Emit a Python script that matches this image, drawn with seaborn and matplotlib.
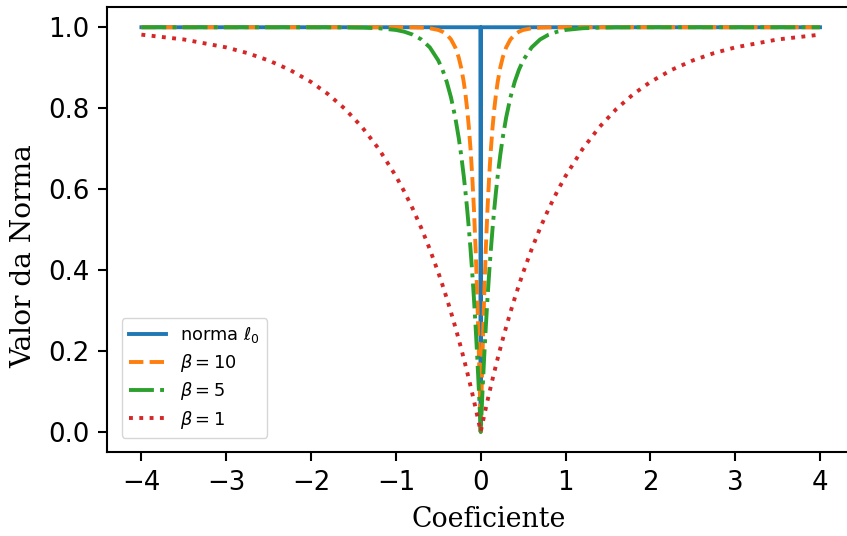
import matplotlib
matplotlib.use("Agg")
import matplotlib.pyplot as plt
import seaborn as sns
import pandas as pd

# Coefficient grid (denser close to zero where the curves are steep)
coef = [
    -4.0, -3.5, -3.0, -2.75, -2.5, -2.25, -2.0, -1.8, -1.6, -1.4, -1.2, -1.0,
    -0.9, -0.8, -0.7, -0.6, -0.5, -0.45, -0.4, -0.35, -0.3, -0.26, -0.23, -0.2,
    -0.18, -0.16, -0.14, -0.12, -0.1, -0.08, -0.06, -0.04, -0.02, -0.01,
    0.0,
    0.01, 0.02, 0.04, 0.06, 0.08, 0.1, 0.12, 0.14, 0.16, 0.18, 0.2, 0.23,
    0.26, 0.3, 0.35, 0.4, 0.45, 0.5, 0.6, 0.7, 0.8, 0.9, 1.0, 1.2, 1.4, 1.6,
    1.8, 2.0, 2.25, 2.5, 2.75, 3.0, 3.5, 4.0,
]

# Smoothed norm, beta = 10
norm_b10 = [
    1.0, 1.0, 1.0, 1.0, 1.0, 1.0, 1.0, 1.0, 1.0, 1.0, 1.0, 1.0,
    0.9999, 0.9997, 0.9991, 0.9975, 0.9933, 0.9889, 0.9817, 0.9698, 0.9502,
    0.9257, 0.8997, 0.8647, 0.8347, 0.7981, 0.7534, 0.6988, 0.6321, 0.5507,
    0.4512, 0.3297, 0.1813, 0.0952,
    0.0,
    0.0952, 0.1813, 0.3297, 0.4512, 0.5507, 0.6321, 0.6988, 0.7534, 0.7981,
    0.8347, 0.8647, 0.8997, 0.9257, 0.9502, 0.9698, 0.9817, 0.9889, 0.9933,
    0.9975, 0.9991, 0.9997, 0.9999, 1.0, 1.0, 1.0, 1.0, 1.0, 1.0, 1.0, 1.0,
    1.0, 1.0, 1.0, 1.0,
]

# Smoothed norm, beta = 5
norm_b5 = [
    1.0, 1.0, 1.0, 1.0, 1.0, 1.0, 1.0, 0.9999, 0.9997, 0.9991, 0.9975, 0.9933,
    0.9889, 0.9817, 0.9698, 0.9502, 0.9179, 0.8946, 0.8647, 0.8262, 0.7769,
    0.7275, 0.6834, 0.6321, 0.5934, 0.5507, 0.5034, 0.4512, 0.3935, 0.3297,
    0.2592, 0.1813, 0.0952, 0.0488,
    0.0,
    0.0488, 0.0952, 0.1813, 0.2592, 0.3297, 0.3935, 0.4512, 0.5034, 0.5507,
    0.5934, 0.6321, 0.6834, 0.7275, 0.7769, 0.8262, 0.8647, 0.8946, 0.9179,
    0.9502, 0.9698, 0.9817, 0.9889, 0.9933, 0.9975, 0.9991, 0.9997, 0.9999,
    1.0, 1.0, 1.0, 1.0, 1.0, 1.0, 1.0,
]

# Smoothed norm, beta = 1
norm_b1 = [
    0.9817, 0.9698, 0.9502, 0.9361, 0.9179, 0.8946, 0.8647, 0.8347, 0.7981,
    0.7534, 0.6988, 0.6321, 0.5934, 0.5507, 0.5034, 0.4512, 0.3935, 0.3624,
    0.3297, 0.2953, 0.2592, 0.2290, 0.2055, 0.1813, 0.1647, 0.1479, 0.1306,
    0.1131, 0.0952, 0.0769, 0.0582, 0.0392, 0.0198, 0.0100,
    0.0,
    0.0100, 0.0198, 0.0392, 0.0582, 0.0769, 0.0952, 0.1131, 0.1306, 0.1479,
    0.1647, 0.1813, 0.2055, 0.2290, 0.2592, 0.2953, 0.3297, 0.3624, 0.3935,
    0.4512, 0.5034, 0.5507, 0.5934, 0.6321, 0.6988, 0.7534, 0.7981, 0.8347,
    0.8647, 0.8946, 0.9179, 0.9361, 0.9502, 0.9698, 0.9817,
]

# l0 norm: one everywhere except at the origin
coef_l0 = [-4.0, -0.004, 0.0, 0.004, 4.0]
norm_l0 = [1.0, 1.0, 0.0, 1.0, 1.0]

labels = [r"norma $\ell_0$", r"$\beta = 10$", r"$\beta = 5$", r"$\beta = 1$"]
colors = ["#1f77b4", "#ff7f0e", "#2ca02c", "#d62728"]
styles = ["-", "--", "-.", ":"]

plt.rcParams["font.family"] = ["DejaVu Sans"]
plt.rcParams["axes.linewidth"] = 1.5

fig = plt.figure(figsize=(8.47, 5.36), dpi=100)
ax = fig.add_axes([0.1269, 0.1567, 0.8813, 0.8302])

series = [
    (coef_l0, norm_l0),
    (coef, norm_b10),
    (coef, norm_b5),
    (coef, norm_b1),
]
for (xs, ys), lab, col, ls in zip(series, labels, colors, styles):
    df = pd.DataFrame({"Coeficiente": xs, "Valor": ys})
    sns.lineplot(data=df, x="Coeficiente", y="Valor", ax=ax, color=col,
                 linestyle=ls, linewidth=2.8, label=lab, estimator=None,
                 sort=False)

ax.set_xlim(-4.4, 4.4)
ax.set_ylim(-0.05, 1.05)
ax.set_xticks([-4, -3, -2, -1, 0, 1, 2, 3, 4])
ax.set_yticks([0.0, 0.2, 0.4, 0.6, 0.8, 1.0])
ax.tick_params(labelsize=18.7, length=6.5, width=1.5, pad=6.5)
ax.set_xlabel("Coeficiente", family="DejaVu Serif", fontsize=19.3)
ax.set_ylabel("Valor da Norma", family="DejaVu Serif", fontsize=20.2)
ax.xaxis.set_label_coords(0.5104, -0.121)
ax.yaxis.set_label_coords(-0.094, 0.44)

ax.legend(loc="lower left", fontsize=12.8, borderaxespad=0.8,
          labelspacing=0.36, handlelength=2.1)

fig.savefig("out.png", dpi=100)
